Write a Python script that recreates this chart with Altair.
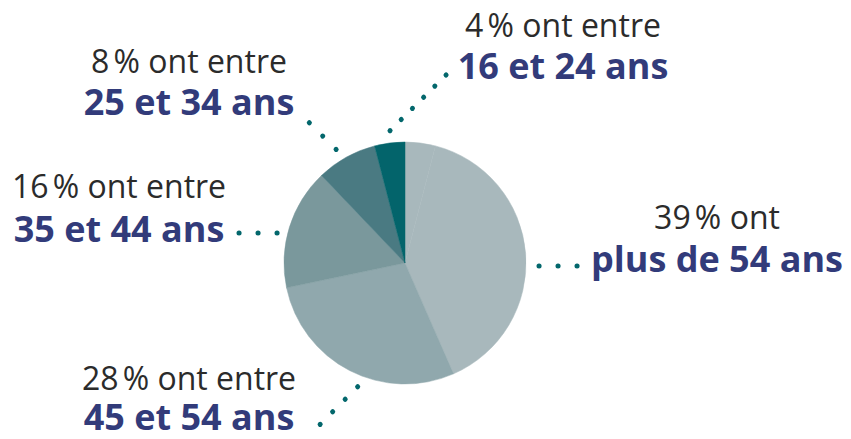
import altair as alt
import pandas as pd

# ---- pie data (clockwise from 12 o'clock) ----
segments = ["autre", "plus de 54 ans", "45 et 54 ans", "35 et 44 ans", "25 et 34 ans", "16 et 24 ans"]
shares = [4, 39, 28, 16, 8, 4]
colors = ["#a8b8bc", "#a8b8bc", "#90a8ad", "#7a989c", "#4a7a82", "#03646b"]

# ---- labels ----
line1 = ["4\u202f% ont entre", "8\u202f% ont entre", "16\u202f% ont entre", "39\u202f% ont", "28\u202f% ont entre"]
line2 = ["16 et 24 ans", "25 et 34 ans", "35 et 44 ans", "plus de 54 ans", "45 et 54 ans"]
label_x = [563, 189, 119, 717, 189]
label_y1 = [37, 73, 198, 229, 390]
label_y2 = [79, 115, 242, 272, 430]

# ---- dotted leaders (start, end, dot spacing) ----
leader_names = ["l16", "l25", "l35", "l54", "l45"]
leader_x0 = [390, 309.3, 239, 539, 357.7]
leader_y0 = [130.7, 122.7, 233, 266, 386.7]
leader_x1 = [446.5, 336.5, 278, 578, 319.5]
leader_y1 = [74.5, 149.8, 233, 266, 425]
leader_gap = [15.8, 18.9, 19, 19, 17.7]

W, H = 835, 423
xs = alt.Scale(domain=[8, 8 + W], nice=False, zero=False)
ys = alt.Scale(domain=[8, 8 + H], nice=False, zero=False, reverse=True)

seg_scale = alt.Scale(domain=segments, range=colors)
pie_df = pd.DataFrame({"segment": segments, "share": shares, "ord": list(range(len(segments)))})
pie = alt.Chart(pie_df).mark_arc(radius=121, strokeWidth=0.5).encode(
    theta=alt.Theta("share:Q", stack=True),
    color=alt.Color("segment:N", scale=seg_scale, legend=None),
    stroke=alt.Stroke("segment:N", scale=seg_scale, legend=None),
    order=alt.Order("ord:Q"),
    x=alt.value(405 - 8),
    y=alt.value(263 - 8),
)

lab_df = pd.DataFrame({"l1": line1, "l2": line2, "x": label_x, "y1": label_y1, "y2": label_y2})
t1 = alt.Chart(lab_df).mark_text(
    align="center", baseline="alphabetic", font="Open Sans", fontSize=32, color="#2b2b2b"
).encode(
    x=alt.X("x:Q", scale=xs, axis=None),
    y=alt.Y("y1:Q", scale=ys, axis=None),
    text="l1:N",
)
t2 = alt.Chart(lab_df).mark_text(
    align="center", baseline="alphabetic", font="Open Sans", fontSize=36, fontWeight="bold", color="#323b7a"
).encode(
    x=alt.X("x:Q", scale=xs, axis=None),
    y=alt.Y("y2:Q", scale=ys, axis=None),
    text="l2:N",
)

rows = []
for n, a, b, c, d in zip(leader_names, leader_x0, leader_y0, leader_x1, leader_y1):
    rows.append({"leader": n, "x": a, "y": b, "pt": 0})
    rows.append({"leader": n, "x": c, "y": d, "pt": 1})
lead_df = pd.DataFrame(rows)
leaders = alt.Chart(lead_df).mark_line(strokeCap="round", strokeWidth=5, color="#03676c").encode(
    x=alt.X("x:Q", scale=xs, axis=None),
    y=alt.Y("y:Q", scale=ys, axis=None),
    order=alt.Order("pt:Q"),
    strokeDash=alt.StrokeDash(
        "leader:N",
        scale=alt.Scale(domain=leader_names, range=[[0.1, g - 0.1] for g in leader_gap]),
        legend=None,
    ),
)

chart = alt.layer(pie, leaders, t1, t2).properties(
    width=W, height=H,
    autosize=alt.AutoSizeParams(type="none"),
    padding=0,
).configure_view(stroke=None)

chart.save("out.html", embed_options={"renderer": "svg", "actions": False})
